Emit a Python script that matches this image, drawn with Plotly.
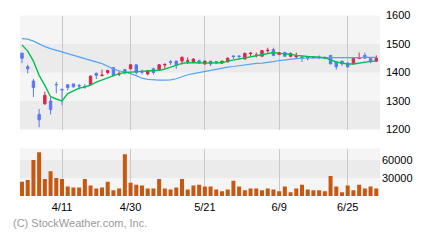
import plotly.graph_objects as go

# ---- data ----
idx = list(range(63))
tick_pos = [7, 19, 32, 45, 57]
tick_text = ["4/11", "4/30", "5/21", "6/9", "6/25"]

open_ = [1468, 1420, 1370, 1253, 1290, 1300, 1358, 1341, 1357, 1360,
         1354, 1351, 1357, 1397, 1389, 1400, 1417, 1394, 1410, 1413,
         1427, 1405, 1395, 1413, 1410, 1426, 1438, 1440, 1440, 1439,
         1437, 1441, 1430, 1440, 1438, 1433, 1437, 1458, 1458, 1447,
         1466, 1459, 1457, 1476, 1480, 1463, 1470, 1457, 1455, 1454,
         1452, 1452, 1454, 1451, 1460, 1437, 1440, 1433, 1430, 1449,
         1460, 1450, 1440]
high = [1468, 1427, 1377, 1272, 1333, 1313, 1367, 1342, 1357, 1360,
        1360, 1360, 1390, 1400, 1410, 1410, 1418, 1405, 1412, 1427,
        1427, 1410, 1408, 1417, 1430, 1433, 1443, 1440, 1457, 1453,
        1450, 1445, 1440, 1440, 1440, 1440, 1453, 1460, 1460, 1470,
        1470, 1470, 1477, 1487, 1487, 1470, 1473, 1470, 1470, 1460,
        1457, 1454, 1460, 1457, 1460, 1437, 1440, 1437, 1450, 1470,
        1470, 1450, 1460]
low = [1433, 1397, 1314, 1208, 1287, 1253, 1327, 1285, 1337, 1347,
       1340, 1343, 1357, 1377, 1387, 1393, 1388, 1387, 1393, 1410,
       1393, 1393, 1390, 1393, 1410, 1413, 1427, 1413, 1428, 1430,
       1433, 1430, 1428, 1423, 1430, 1430, 1437, 1447, 1447, 1447,
       1457, 1453, 1457, 1470, 1457, 1463, 1457, 1453, 1450, 1437,
       1443, 1451, 1447, 1447, 1430, 1410, 1423, 1417, 1430, 1447,
       1450, 1433, 1437]
close = [1450, 1413, 1347, 1234, 1320, 1270, 1357, 1339, 1347, 1350,
         1353, 1350, 1387, 1390, 1391, 1407, 1390, 1396, 1399, 1427,
         1400, 1401, 1407, 1400, 1427, 1428, 1436, 1427, 1453, 1441,
         1447, 1433, 1440, 1430, 1436, 1440, 1450, 1456, 1456, 1467,
         1468, 1461, 1477, 1478, 1460, 1470, 1457, 1467, 1459, 1452,
         1454, 1453, 1452, 1449, 1430, 1420, 1430, 1420, 1450, 1451,
         1450, 1437, 1450]

ma_short = [1497, 1475, 1440, 1390, 1355, 1315, 1307, 1300, 1326, 1336,
            1345, 1349, 1356, 1366, 1374, 1382, 1390, 1396, 1400, 1402,
            1404, 1404, 1405, 1406, 1408, 1412, 1418, 1426, 1432, 1434,
            1435, 1434, 1433, 1433, 1433, 1434, 1440, 1444, 1447, 1450,
            1455, 1459, 1463, 1468, 1470, 1467, 1466, 1464, 1460, 1457,
            1456, 1455, 1453, 1452, 1444, 1437, 1433, 1430, 1430, 1433,
            1437, 1439, 1440]
ma_long = [1519, 1517, 1510, 1500, 1491, 1484, 1478, 1472, 1467, 1461,
           1455, 1449, 1443, 1437, 1431, 1422, 1412, 1406, 1402, 1396,
           1389, 1380, 1376, 1374, 1373, 1373, 1374, 1378, 1385, 1392,
           1396, 1400, 1404, 1408, 1412, 1416, 1419, 1421, 1424, 1427,
           1430, 1432, 1433, 1435, 1438, 1442, 1445, 1447, 1449, 1450,
           1451, 1452, 1452, 1452, 1452, 1452, 1452, 1450, 1450, 1452,
           1453, 1453, 1453]

volume = [23700, 26800, 60000, 72600, 28400, 41000, 30000, 28400, 15800, 14200,
          14200, 28400, 17400, 12600, 14200, 23700, 9500, 12600, 69400, 22100,
          18900, 17400, 12600, 12600, 28400, 12600, 11000, 14200, 28400, 11000,
          17400, 18900, 15800, 15800, 11000, 7900, 11000, 25300, 15800, 9500,
          12600, 12600, 9500, 12600, 11000, 7900, 15800, 6300, 12600, 18900,
          11000, 9500, 9500, 7900, 33200, 15800, 6300, 17400, 9500, 18900,
          12600, 15800, 12600]

price_ticks = [1200, 1300, 1400, 1500, 1600]
vol_ticks = [30000, 60000]

RED = "#d4284c"
BLUE = "#5a78f5"
FONT = "Liberation Sans, Arial, sans-serif"

fig = go.Figure()

fig.add_trace(go.Scatter(x=idx, y=ma_long, mode="lines",
                         line=dict(color="#55a5f5", width=1.2),
                         xaxis="x", yaxis="y", hoverinfo="skip"))
fig.add_trace(go.Scatter(x=idx, y=ma_short, mode="lines",
                         line=dict(color="#00c050", width=1.4),
                         xaxis="x", yaxis="y", hoverinfo="skip"))
fig.add_trace(go.Candlestick(
    x=idx, open=open_, high=high, low=low, close=close,
    increasing=dict(line=dict(color=RED, width=1), fillcolor=RED),
    decreasing=dict(line=dict(color=BLUE, width=1), fillcolor=BLUE),
    whiskerwidth=0, xaxis="x", yaxis="y"))

fig.add_trace(go.Bar(x=idx, y=volume, marker=dict(color="#c8580f", line=dict(width=0)),
                     width=0.7, xaxis="x2", yaxis="y2"))

xl, xr = 20 / 440, 380 / 440
xrange = [-0.35, 62.65]
common_x = dict(domain=[xl, xr], range=xrange, tickvals=tick_pos,
                showgrid=True, gridcolor="#c8c8c8", gridwidth=1,
                zeroline=False, showline=False, fixedrange=True)

fig.update_layout(
    width=440, height=240,
    margin=dict(l=0, r=0, t=0, b=0),
    paper_bgcolor="white",
    plot_bgcolor="#f5f5f5",
    showlegend=False,
    boxgap=0.4,
    bargap=0.3,
    font=dict(family=FONT, size=11, color="black"),
    xaxis=dict(anchor="y", showticklabels=False, rangeslider=dict(visible=False), **common_x),
    yaxis=dict(domain=[(240 - 130) / 240, (240 - 10) / 240], range=[1200, 1600],
               side="right", tickvals=price_ticks, showgrid=False, zeroline=False,
               ticks="", ticklabelstandoff=5, anchor="x"),
    xaxis2=dict(anchor="y2", ticktext=tick_text, ticks="", ticklabelstandoff=3,
                tickfont=dict(size=11), **common_x),
    yaxis2=dict(domain=[(240 - 200) / 240, (240 - 150) / 240], range=[0, 78950],
                side="right", tickvals=vol_ticks, ticktext=[str(v) for v in vol_ticks],
                showgrid=False, zeroline=False, ticks="", ticklabelstandoff=1, anchor="x2"),
    shapes=[
        dict(type="rect", xref="x domain", yref="y", x0=0, x1=1, y0=1200, y1=1300,
             fillcolor="#ebebeb", line=dict(width=0), layer="below"),
        dict(type="rect", xref="x domain", yref="y", x0=0, x1=1, y0=1400, y1=1500,
             fillcolor="#ebebeb", line=dict(width=0), layer="below"),
        dict(type="rect", xref="x2 domain", yref="y2", x0=0, x1=1, y0=30000, y1=60000,
             fillcolor="#ebebeb", line=dict(width=0), layer="below"),
    ],
    annotations=[
        dict(text="(C) StockWeather.com, Inc.", xref="paper", yref="paper",
             x=11 / 440, y=(240 - 228) / 240, xanchor="left", yanchor="middle",
             showarrow=False, font=dict(size=11, color="#9a9a9a", family=FONT)),
    ],
)

fig.write_html("out.html", config=dict(displayModeBar=False))
